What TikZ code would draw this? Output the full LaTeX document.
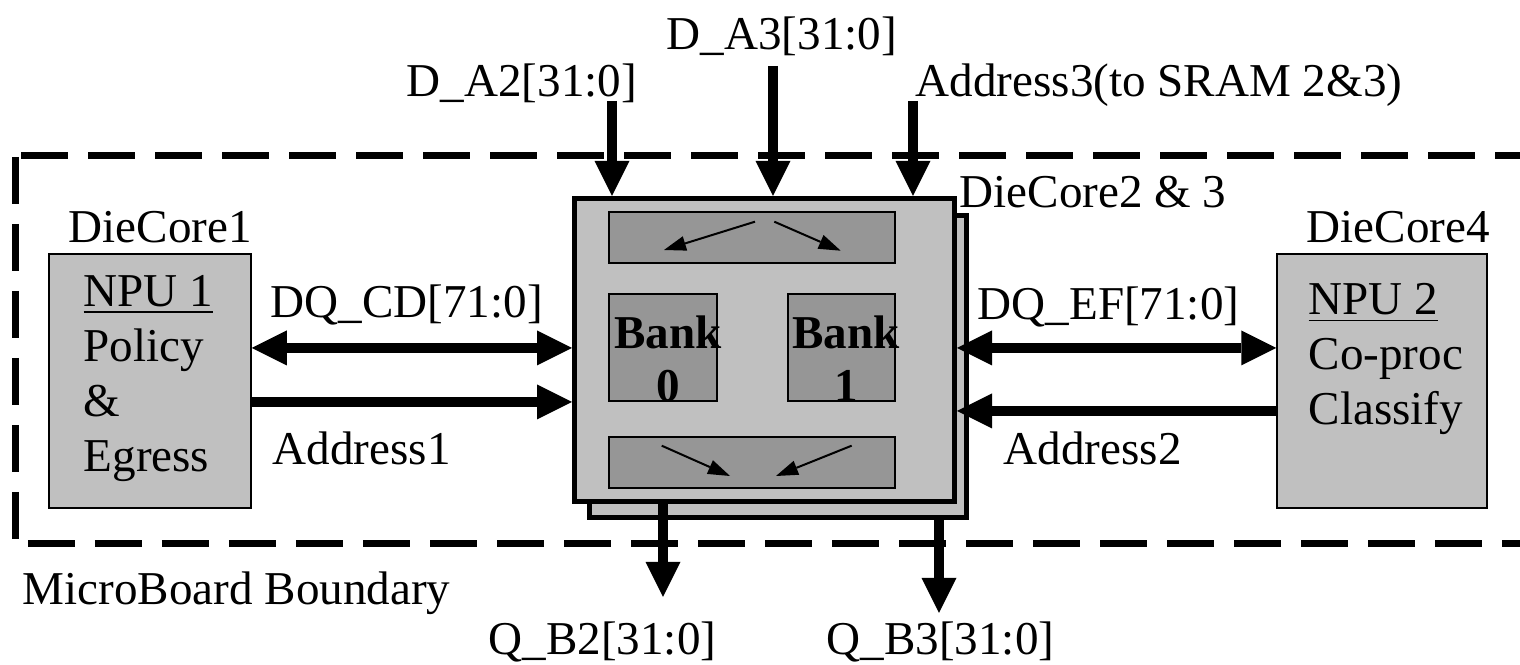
\documentclass[tikz,border=0pt]{standalone}
\usepackage{fontspec}
\setmainfont{Liberation Serif}
\usetikzlibrary{arrows.meta,calc}
\definecolor{Silver}{HTML}{C0C0C0}
\definecolor{Slate}{HTML}{969696}

\begin{document}
\begin{tikzpicture}[
  lbl/.style={inner sep=0,anchor=base west,font=\fontsize{13.4}{15.6}\selectfont},
  core/.style={draw,line width=0.015cm,fill=Silver,inner sep=0},
  chip/.style={draw,line width=0.05cm,fill=Silver,inner sep=0},
  blk/.style={draw,line width=0.02cm,fill=Slate,inner sep=0},
  bus/.style={line width=0.1cm,-{Triangle[length=0.35cm,width=0.35cm,line width=0pt]}},
  bibus/.style={line width=0.1cm,{Triangle[length=0.35cm,width=0.35cm,line width=0pt]}-{Triangle[length=0.35cm,width=0.35cm,line width=0pt]}},
  flow/.style={line width=0.02cm,-{Triangle[length=0.22cm,width=0.15cm,line width=0pt]}},
  boundary/.style={line width=0.07cm,dash pattern=on 0.47cm off 0.2cm}
]
\useasboundingbox (0,0) rectangle (15.2,-6.65);
\draw[boundary] (0.21,-1.56) -- (15.3,-1.56);
\draw[boundary] (0.155,-1.57) -- (0.155,-5.41);
\draw[boundary] (0.28,-5.44) -- (15.3,-5.44);

\node[chip,minimum width=3.77cm,minimum height=3.02cm] (back) at (7.78,-3.665) {};
\node[chip,minimum width=3.80cm,minimum height=3.03cm] (front) at (7.645,-3.50) {};
\node[blk,minimum width=2.86cm,minimum height=0.51cm] (topbar) at (7.52,-2.375) {};
\node[blk,minimum width=1.08cm,minimum height=1.07cm] (bankA) at (6.63,-3.475) {};
\node[blk,minimum width=1.07cm,minimum height=1.07cm] (bankB) at (8.415,-3.475) {};
\node[blk,minimum width=2.86cm,minimum height=0.51cm] (botbar) at (7.52,-4.625) {};
\node[core,minimum width=2.02cm,minimum height=2.54cm] (npuA) at (1.50,-3.81) {};
\node[core,minimum width=2.10cm,minimum height=2.54cm] (npuB) at (13.82,-3.81) {};

\node[lbl,anchor=north west,align=left] (npuAtxt) at (0.83,-2.75) {\underline{NPU 1}\\Policy\\\&\\Egress};
\node[lbl,anchor=north west,align=left] (npuBtxt) at (13.08,-2.83) {\underline{NPU 2}\\Co-proc\\Classify};
\node[lbl,anchor=north,align=center,font=\fontsize{13.4}{15.1}\selectfont\bfseries] (bankAtxt) at (6.68,-3.15) {Bank\\0};
\node[lbl,anchor=north,align=center,font=\fontsize{13.4}{15.1}\selectfont\bfseries] (bankBtxt) at (8.46,-3.15) {Bank\\1};

\draw[flow] ($(topbar.center)+(0.03,0.158)$) -- ($(topbar.center)+(-0.88,-0.125)$);
\draw[flow] ($(topbar.center)+(0.223,0.158)$) -- ($(topbar.center)+(0.887,-0.132)$);
\draw[flow] ($(botbar.center)+(-0.903,0.168)$) -- ($(botbar.center)+(-0.22,-0.135)$);
\draw[flow] ($(botbar.center)+(0.997,0.168)$) -- ($(botbar.center)+(0.24,-0.135)$);

\coordinate (dqA) at ($(npuA.east)+(0,0.33)$);
\coordinate (adrA) at ($(npuA.east)+(0,-0.21)$);
\coordinate (dqB) at ($(npuB.west)+(0,0.33)$);
\coordinate (adrB) at ($(npuB.west)+(0,-0.30)$);
\draw[bibus] (dqA) -- (dqA -| front.west);
\draw[bus] (adrA) -- (adrA -| front.west);
\draw[bibus] (dqB -| front.east) -- (dqB);
\draw[bus] (adrB) -- (adrB -| front.east);

\coordinate (dA2) at (6.12,-1.01);
\coordinate (dA3) at (7.73,-0.66);
\coordinate (adr3) at (9.13,-1.01);
\coordinate (qB2) at (6.63,-5.97);
\coordinate (qB3) at (9.39,-6.13);
\draw[bus] (dA2) -- (dA2 |- front.north);
\draw[bus] (dA3) -- (dA3 |- front.north);
\draw[bus] (adr3) -- (adr3 |- front.north);
\draw[bus] (qB2 |- front.south) -- (qB2);
\draw[bus] (qB3 |- back.south) -- (qB3);

\node[lbl] (dA2txt) at (4.06,-0.97) {D\_A2[31:0]};
\node[lbl] (dA3txt) at (6.66,-0.50) {D\_A3[31:0]};
\node[lbl] (adr3txt) at (9.15,-0.97) {Address3(to SRAM 2\&3)};
\node[lbl] (coreAtxt) at (0.68,-2.43) {DieCore1};
\node[lbl] (coreBtxt) at (9.59,-2.08) {DieCore2 \& 3};
\node[lbl] (coreCtxt) at (13.06,-2.43) {DieCore4};
\node[lbl] (dqAtxt) at (2.70,-3.18) {DQ\_CD[71:0]};
\node[lbl] (dqBtxt) at (9.77,-3.20) {DQ\_EF[71:0]};
\node[lbl] (adrAtxt) at (2.72,-4.65) {Address1};
\node[lbl] (adrBtxt) at (10.03,-4.65) {Address2};
\node[lbl] (mbtxt) at (0.22,-6.05) {MicroBoard Boundary};
\node[lbl] (qB2txt) at (4.88,-6.55) {Q\_B2[31:0]};
\node[lbl] (qB3txt) at (8.26,-6.55) {Q\_B3[31:0]};
\end{tikzpicture}
\end{document}
